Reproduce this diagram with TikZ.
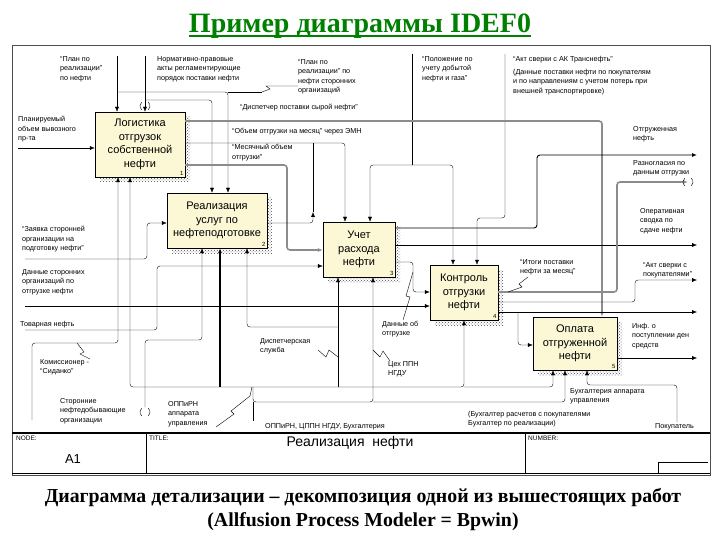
\documentclass[tikz,border=0pt]{standalone}
\usepackage{fontspec}
\setmainfont{Liberation Sans}
\newfontfamily\capfont{Liberation Serif}
\usetikzlibrary{arrows.meta,patterns}
\definecolor{actfill}{RGB}{252,248,214}
\colorlet{titlegreen}{green!50!black}
\colorlet{wire}{black!45}
\tikzset{
  act/.style={draw,fill=actfill,font=\fontsize{11}{13.5}\selectfont,align=center,inner sep=0pt},
  actshade/.style={pattern=crosshatch dots,pattern color=black!70},
  lbl/.style={font=\fontsize{7.2}{9.5}\selectfont,align=left,inner sep=0pt,anchor=north west},
  arr/.style={draw,-{Latex[length=5pt,width=4pt]},rounded corners=3pt},
  garr/.style={arr,line width=1.6pt,draw=wire},
  ln/.style={draw,rounded corners=3pt},
  squig/.style={draw,thin},
  tunnel/.style={draw,thin},
  frametxt/.style={font=\fontsize{6.5}{8}\selectfont,inner sep=0pt,anchor=west},
}

\begin{document}
\begin{tikzpicture}[x=1pt,y=-1pt]
\useasboundingbox (0,0) rectangle (720,540);
\fill[white] (0,0) rectangle (720,540);

\node[font=\capfont\bfseries\fontsize{28}{30}\selectfont,text=titlegreen,inner sep=0pt,anchor=base] (title) at (360,33) {Пример диаграммы IDEF0};
\draw[titlegreen,line width=1.3pt] ([yshift=-3pt]title.base west) -- ([yshift=-3pt]title.base east);

\draw[black!70] (12,45) rectangle (710,475);
\draw[line width=1.4pt] (12,433) -- (710,433);
\draw (12,473) -- (710,473);
\draw (146,433) -- (146,473) (525,433) -- (525,473);
\draw (658,473) |- (708,462);
\node[frametxt] (nodeLbl) at (16,438) {NODE:};
\node[frametxt] (titleLbl) at (149,438) {TITLE:};
\node[frametxt] (numLbl) at (528,438) {NUMBER:};
\node[font=\fontsize{13}{14}\selectfont,inner sep=0pt] (nodeNo) at (73,459) {A1};
\node[font=\fontsize{14}{15}\selectfont,inner sep=0pt] (diagTitle) at (350,443) {Реализация\ \ нефти};

\foreach \n/\cx/\cy/\w/\h/\t in {
  1/140/144.5/90/65/{Логистика\\отгрузок\\собственной\\нефти},
  2/217/220.5/100/55/{Реализация\\услуг по\\нефтеподготовке},
  3/359/249.5/72/55/{Учет\\расхода\\нефти},
  4/464/292.5/68/55/{Контроль\\отгрузки\\нефти},
  5/575/343.5/84/53/{Оплата\\отгруженной\\нефти}}{
  \fill[actshade] (\cx-\w/2+5,\cy-\h/2+5) rectangle (\cx+\w/2+5,\cy+\h/2+5);
  \node[act,minimum width=\w*1pt,minimum height=\h*1pt] (b\n) at (\cx,\cy) {\t};
  \node[font=\fontsize{6}{6}\selectfont,anchor=south east,inner sep=1.5pt] (no\n) at (b\n.south east) {\n};
}

\coordinate (planT) at (117,56);
\coordinate (normT) at (145,56);
\coordinate (polT) at (412,54);
\coordinate (aktT) at (505,54);
\draw[arr] (planT) -- (planT |- b1.north);
\draw[arr] (normT) -- (normT |- b1.north);
\draw[tunnel] (145,106) ++(130:5) arc[start angle=130,end angle=230,radius=5];
\draw[tunnel] (145,106) ++(-50:5) arc[start angle=-50,end angle=50,radius=5];
\draw[arr] (117,92) -- (228,92) -- (228,0 |- b2.north);
\draw[ln] (228,92) -- (262,92);
\draw[arr] (145,100) -- (212,100) -- (212,0 |- b2.north);
\draw[ln] (polT) -- (412,165);
\draw[arr] (412,165) -- (370,165) -- (370,0 |- b3.north);
\draw[arr] (412,165) -- (453,165) -- (453,0 |- b4.north);
\draw[arr] (aktT) -- (505,218) -- (477,218) -- (477,0 |- b4.north);

\draw[garr] (b1.east |- 0,121) -- (602,121) -- (602,0 |- b5.north);
\draw[arr] (b1.east |- 0,143) -- (345,143) -- (345,0 |- b3.north);
\draw[garr] (b1.east |- 0,165) -- (287,165) -- (287,250) -- (b3.west |- 0,250);
\draw[arr] (b2.east |- 0,223) -- (313,223) -- (313,212);
\draw[ln] (313,212) -- (313,143);

\coordinate (planirL) at (18,148);
\coordinate (zayavL) at (25,259);
\coordinate (dannL) at (25,306);
\coordinate (tovL) at (25,330);
\draw[arr] (planirL) -- (planirL -| b1.west);
\draw[arr] (zayavL) -- (147,259) -- (147,223) -- (b2.west |- 0,223);
\draw[arr] (dannL) -- (dannL -| b4.west);
\draw[arr] (tovL) -- (157,330) -- (157,266) -- (b3.west |- 0,266);

\coordinate (otgrR) at (697,155);
\coordinate (operR) at (697,245);
\draw[arr,line width=0.9pt] (b3.east |- 0,228) -- (537,228) -- (537,155) -- (otgrR);
\draw[arr] (b3.east |- 0,245) -- (operR);
\draw[arr] (b3.east |- 0,262) -- (413,262) -- (413,292) -- (b4.west |- 0,292);

\coordinate (raznR) at (688,182);
\coordinate (aktpR) at (697,280);
\coordinate (svodR) at (697,312);
\draw[garr] (b4.east |- 0,292) -- (617,292) -- (617,182) -- (raznR);
\draw[tunnel] (688,182) ++(130:5) arc[start angle=130,end angle=230,radius=5];
\draw[tunnel] (688,182) ++(-50:5) arc[start angle=-50,end angle=50,radius=5];
\draw[arr] (b4.east |- 0,302) -- (635,302) -- (635,280) -- (aktpR);
\draw[arr] (b4.east |- 0,312) -- (svodR);
\draw[arr] (518,312) -- (518,345) -- (b5.west |- 0,345);

\coordinate (infR) at (697,358);
\coordinate (pokB) at (677,422);
\draw[arr] (b5.east |- 0,358) -- (infR);
\draw[arr] (pokB) -- (677,385) -- (587,385) -- (587,0 |- b5.south);

\coordinate (komB) at (32,420);
\coordinate (storB) at (145,407);
\draw[arr] (komB) -- (32,343) -- (118,343) -- (118,0 |- b1.south);
\draw[arr] (storB) -- (145,340) -- (202,340) -- (202,0 |- b2.south);
\draw[tunnel] (145,412) ++(130:5) arc[start angle=130,end angle=230,radius=5];
\draw[tunnel] (145,412) ++(-50:5) arc[start angle=-50,end angle=50,radius=5];
\draw[arr] (250,387) -- (130,387) -- (130,0 |- b1.south);
\draw[arr] (250,387) -- (464,387) -- (464,0 |- b4.south);
\draw[arr] (464,387) -- (553,387) -- (553,0 |- b5.south);
\draw[arr,line width=1.2pt] (220,387) -- (220,0 |- b2.south);
\draw[arr] (338,387) -- (338,0 |- b3.south);
\draw[arr] (338,327) -- (247,327) -- (247,0 |- b2.south);
\draw[arr] (253,387) -- (253,402) -- (373,402) -- (373,0 |- b3.south);
\draw[arr] (373,402) -- (565,402) -- (565,0 |- b5.south);

\node[lbl] (lPlan) at (60,56) {“План по\\реализации”\\по нефти};
\node[lbl] (lNorm) at (157,56) {Нормативно-правовые\\акты регламентирующие\\порядок поставки нефти};
\node[lbl] (lPlanSt) at (298,59) {“План по\\реализации” по\\нефти сторонних\\организаций};
\node[lbl] (lPol) at (422,56) {“Положение по\\учету добытой\\нефти и газа”};
\node[lbl] (lAkt) at (513,56) {“Акт сверки с АК Транснефть”};
\node[lbl] (lAktD) at (513,69) {(Данные поставки нефти по покупателям\\и по направлениям с учетом потерь при\\внешней транспортировке)};
\node[lbl] (lDisp) at (240,104) {“Диспетчер поставки сырой нефти”};
\node[lbl] (lObem) at (232,128) {“Объем отгрузки на месяц” через ЭМН};
\node[lbl] (lMes) at (232,144) {“Месячный объем\\отгрузки”};
\node[lbl] (lPlanir) at (18,116) {Планируемый\\объем вывозного\\пр-та};
\node[lbl] (lZayav) at (22,226) {“Заявка сторонней\\организации на\\подготовку нефти”};
\node[lbl] (lDann) at (22,269) {Данные сторонних\\организаций по\\отгрузке нефти};
\node[lbl] (lTov) at (20,321) {Товарная нефть};
\node[lbl] (lKom) at (40,359) {Комиссионер -\\“Сиданко”};
\node[lbl] (lStor) at (60,398) {Сторонние\\нефтедобывающие\\организации};
\node[lbl] (lOppA) at (168,401) {ОППиРН\\аппарата\\управления};
\node[lbl] (lDispS) at (260,338) {Диспетчерская\\служба};
\node[lbl] (lDannO) at (382,321) {Данные об\\отгрузке};
\node[lbl] (lCeh) at (388,361) {Цех ППН\\НГДУ};
\node[lbl] (lOppC) at (265,423) {ОППиРН, ЦППН НГДУ, Бухгалтерия};
\node[lbl] (lBuhR) at (468,411) {(Бухгалтер расчетов с покупателями\\Бухгалтер по реализации)};
\node[lbl] (lBuhA) at (570,388) {Бухгалтерия аппарата\\управления};
\node[lbl] (lPok) at (655,423) {Покупатель};
\node[lbl] (lInf) at (632,323) {Инф. о\\поступлении ден\\средств};
\node[lbl] (lItog) at (520,259) {“Итоги поставки\\нефти за месяц”};
\node[lbl] (lAktP) at (643,262) {“Акт сверки с\\покупателями”};
\node[lbl] (lOper) at (640,208) {Оперативная\\сводка по\\сдаче нефти};
\node[lbl] (lRazn) at (633,160) {Разногласия по\\данным отгрузки};
\node[lbl] (lOtgr) at (633,126) {Отгруженная\\нефть};

\draw[squig] (262,92) -- (270,89) -- (266,86) -- (lPlanSt.west |- 0,86);
\draw[squig] (77,343) -- (84,352) -- (80,354) -- (90,359);
\draw[squig] (318,350) -- (326,357) -- (329,350) -- (338,357);
\draw[squig] (373,350) -- (380,357) -- (383,351) -- (390,361);
\draw[squig] (413,272) -- (406,296) -- (410,297) -- (403,320);
\draw[squig] (216,427) -- (234,414) -- (231,411) -- (250,396) -- (252,387);
\draw[squig] (528,277) -- (519,284) -- (522,287) -- (508,292);
\draw[squig] (253,402) -- (253,421);

\node[font=\capfont\bfseries\fontsize{19.8}{24}\selectfont,align=center,inner sep=0pt] (caption) at (363,510) {Диаграмма детализации – декомпозиция одной из вышестоящих работ\\(Allfusion Process Modeler = Bpwin)};
\end{tikzpicture}
\end{document}
